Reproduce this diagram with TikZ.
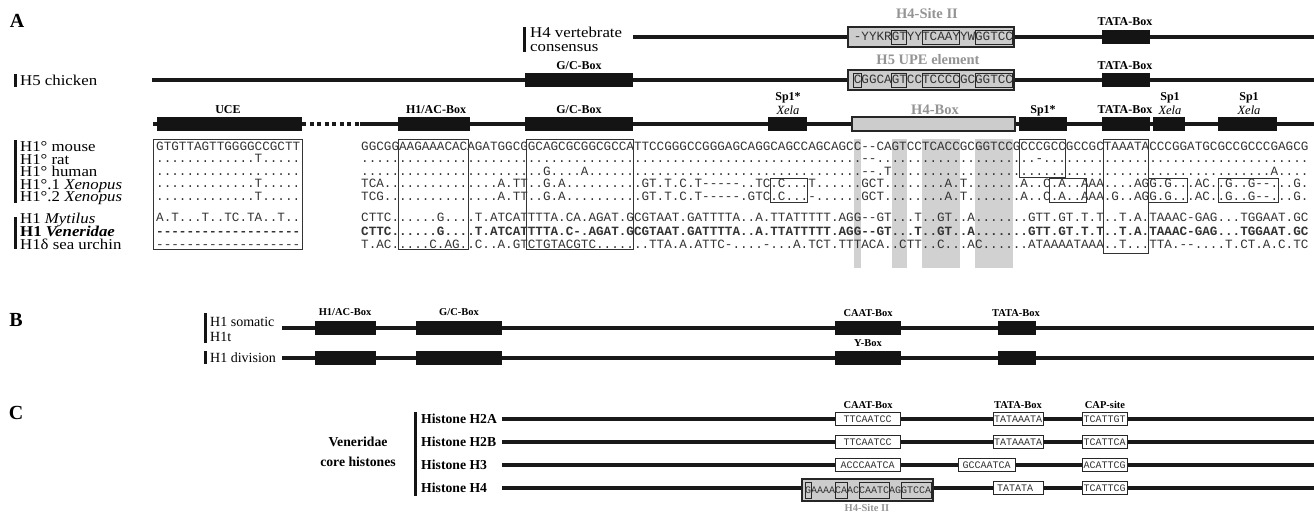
\documentclass[tikz,border=0pt]{standalone}
\usepackage{fontspec}
\setmainfont{Liberation Serif}
\setmonofont{Liberation Mono}
\newfontfamily\labfam[FakeStretch=1.12]{Liberation Serif}
\ExplSyntaxOn
\cs_new:Npn \Rep #1#2 { \prg_replicate:nn {#1} {#2} }
\ExplSyntaxOff
\newcommand\fSeq{\ttfamily\fontsize{12.63}{13}\selectfont}
\newcommand\fSmall{\ttfamily\fontsize{10}{11}\selectfont}
\newcommand\fSp{\labfam\fontsize{15}{16}\selectfont}
\newcommand\fSpM{\fontsize{14}{15}\selectfont}
\newcommand\fSpB{\bfseries\fontsize{13.7}{15}\selectfont}
\newcommand\fFeat{\bfseries\fontsize{12}{13}\selectfont}
\newcommand\fXela{\itshape\fontsize{12.5}{13}\selectfont}
\newcommand\fFeatB{\bfseries\fontsize{10.5}{11}\selectfont}
\newcommand\fGray{\bfseries\fontsize{14.5}{15}\selectfont}
\newcommand\fGraySm{\bfseries\fontsize{10.5}{11}\selectfont}
\newcommand\fPanel{\bfseries\fontsize{20}{21}\selectfont}
\tikzset{
 dna/.style={line width=3.5pt, draw=black!90},
 bb/.style={fill=black!92},
 bar/.style={fill=black!92},
 gbox/.style={fill=black!20, draw=black!85, line width=2pt},
 hbox/.style={fill=black!20, draw=black!85, line width=1.2pt},
 subb/.style={draw=black!85, line width=0.8pt},
 abox/.style={draw=black!80, line width=1pt},
 wbox/.style={fill=white, draw=black!85, line width=0.8pt},
 shadecol/.style={fill=black!18},
 seq/.style={font=\fSeq, anchor=west, inner sep=0pt, text height=7pt, text depth=0pt, text=black!80},
 cseq/.style={font=\fSmall, inner sep=0pt, text height=6pt, text depth=0pt, text=black!80},
 flab/.style={font=\fFeat, inner sep=0pt, text height=8pt, text depth=0pt},
 xlab/.style={font=\fXela, inner sep=0pt, text height=8pt, text depth=0pt},
 blab/.style={font=\fFeatB, inner sep=0pt, text height=7pt, text depth=0pt},
 glab/.style={font=\fGray, text=black!42, inner sep=0pt, text height=9.5pt, text depth=0pt},
 glabs/.style={font=\fGraySm, text=black!42, inner sep=0pt, text height=7pt, text depth=0pt},
 sp/.style={font=\fSp, anchor=west, inner sep=0pt, text height=10pt, text depth=0pt},
 spm/.style={font=\fSpM, anchor=west, inner sep=0pt, text height=9pt, text depth=0pt},
 spb/.style={font=\fSpB, inner sep=0pt, text height=9pt, text depth=0pt},
 panel/.style={font=\fPanel, inner sep=0pt, text height=13pt, text depth=0pt},
}
\begin{document}
\begin{tikzpicture}[x=1pt,y=-1pt]
\useasboundingbox (0,0) rectangle (1314,513);
\fill[white] (0,0) rectangle (1314,513);

% ================= Panel A =================
\node[panel] (pA) at (17,21) {A};

% --- H4 vertebrate consensus
\fill[bar] (523,27) rectangle (526,52);
\node[sp] (lH4a) at (530,33) {H4 vertebrate};
\node[sp] (lH4b) at (530,46.5) {consensus};
\coordinate (r1s) at (633,37); \coordinate (r1e) at (1314,37);
\draw[dna] (r1s) -- (r1e);
\draw[gbox] (848,27) rectangle (1014,47);
\draw[subb] (891.6,30) rectangle (906.8,44) (921.9,30) rectangle (959.8,44) (975,30) rectangle (1012,44);
\node[seq] (cons) at (853.7,37) {-YYKRGTYYTCAAYYWGGTCC};
\fill[bb] (1102,30) rectangle (1150,44);
\node[glab] (lSite) at (927,14) {H4-Site II};
\node[flab] (lTata1) at (1125,22) {TATA-Box};

% --- H5 chicken
\fill[bar] (14,74) rectangle (17,87);
\node[sp] (lH5) at (20,81) {H5 chicken};
\coordinate (r2s) at (152,80); \coordinate (r2e) at (1314,80);
\draw[dna] (r2s) -- (r2e);
\fill[bb] (525,73) rectangle (633,87);
\node[flab] (lGC1) at (579,66) {G/C-Box};
\draw[gbox] (848,70) rectangle (1014,90);
\draw[subb] (853.7,73) rectangle (861.3,87) (891.6,73) rectangle (906.8,87) (921.9,73) rectangle (959.8,87) (975,73) rectangle (1012,87);
\node[seq] (upe) at (853.7,80) {CGGCAGTCCTCCCCGCGGTCC};
\node[glab] (lUPE) at (928,60) {H5 UPE element};
\fill[bb] (1102,73) rectangle (1150,87);
\node[flab] (lTata2) at (1125,66) {TATA-Box};

% --- H1 promoter map
\coordinate (r3s) at (153,124); \coordinate (r3a) at (302,124);
\coordinate (r3b) at (360,124); \coordinate (r3e) at (1314,124);
\draw[dna] (r3s) -- (r3a);
\draw[dna, dash pattern=on 4pt off 3.5pt] (r3a) -- (r3b);
\draw[dna] (r3b) -- (r3e);
\fill[bb] (157,117) rectangle (302,131);
\node[flab] (lUCE) at (228,110) {UCE};
\fill[bb] (398,117) rectangle (470,131);
\node[flab] (lAC) at (436,110) {H1/AC-Box};
\fill[bb] (525,117) rectangle (633,131);
\node[flab] (lGC2) at (579,110) {G/C-Box};
\fill[bb] (768,117) rectangle (807,131);
\node[flab] (lSp1a) at (788,97) {Sp1*};
\node[xlab] (lXa) at (788,111) {Xela};
\draw[hbox] (852,117) rectangle (1015,131);
\node[glab] (lH4box) at (935,110) {H4-Box};
\fill[bb] (1019,117) rectangle (1067,131);
\node[flab] (lSp1b) at (1043,110) {Sp1*};
\fill[bb] (1102,117) rectangle (1150,131);
\node[flab] (lTata3) at (1125,110) {TATA-Box};
\fill[bb] (1153,117) rectangle (1185,131);
\node[flab] (lSp1c) at (1170,97) {Sp1};
\node[xlab] (lXc) at (1170,111) {Xela};
\fill[bb] (1218,117) rectangle (1277,131);
\node[flab] (lSp1d) at (1249,97) {Sp1};
\node[xlab] (lXd) at (1249,111) {Xela};

% --- shaded conserved columns
\fill[shadecol] (853.7,139) rectangle (861.3,268);
\fill[shadecol] (891.6,139) rectangle (906.8,268);
\fill[shadecol] (921.9,139) rectangle (959.8,268);
\fill[shadecol] (975,139) rectangle (1012.9,268);

% --- species labels
\fill[bar] (14,140) rectangle (17,203);
\fill[bar] (14,217) rectangle (17,249);
\node[sp] (sMouse) at (20,147) {H1° mouse};
\node[sp] (sRat) at (20,159.5) {H1° rat};
\node[sp] (sHuman) at (20,172) {H1° human};
\node[sp] (sX1) at (20,184.5) {H1°.1 \textit{Xenopus}};
\node[sp] (sX2) at (20,197) {H1°.2 \textit{Xenopus}};
\node[sp] (sMyt) at (20,218.5) {H1 \textit{Mytilus}};
\node[sp] (sVen) at (20,231.5) {\textbf{H1 \textit{Veneridae}}};
\node[sp] (sUrc) at (20,244.5) {H1δ sea urchin};

% --- UCE alignment
\node[seq] (u1) at (156,147) {GTGTTAGTTGGGGCCGCTT};
\node[seq] (u2) at (156,159.5) {\Rep{13}{.}T\Rep{5}{.}};
\node[seq] (u3) at (156,172) {\Rep{19}{.}};
\node[seq] (u4) at (156,184.5) {\Rep{13}{.}T\Rep{5}{.}};
\node[seq] (u5) at (156,197) {\Rep{13}{.}T\Rep{5}{.}};
\node[seq] (u6) at (156,218.5) {A.T...T..TC.TA..T..};
\node[seq,font=\fSeq\bfseries] (u7) at (156,231.5) {\Rep{19}{-}};
\node[seq] (u8) at (156,244.5) {\Rep{19}{-}};

% --- main alignment
\node[seq] (a1) at (361,147) {GGCGGAAGAAACACAGATGGCGGCAGCGCGGCGCCATTCCGGGCCGGGAGCAGGCAGCCAGCAGCC--CAGTCCTCACCGCGGTCCGCCCGCCGCCGCTAAATACCCGGATGCGCCGCCCGAGCG};
\node[seq] (a2) at (361,159.5) {\Rep{66}{.}--\Rep{21}{.}-\Rep{35}{.}};
\node[seq] (a3) at (361,172) {\Rep{24}{.}G\Rep{4}{.}A\Rep{36}{.}--.T\Rep{50}{.}A\Rep{4}{.}};
\node[seq] (a4) at (361,184.5) {TCA\Rep{15}{.}A.TT..G.A\Rep{10}{.}GT.T.C.T-----..TC.C...T\Rep{6}{.}GCT\Rep{8}{.}A.T\Rep{7}{.}A..C.A..AAA....AGG.G...AC..G..G--...G.};
\node[seq] (a5) at (361,197) {TCG\Rep{15}{.}A.TT..G.A\Rep{10}{.}GT.T.C.T-----.GTC.C...-\Rep{6}{.}GCT\Rep{8}{.}A.T\Rep{7}{.}A..C.A..AAA.G..AGG.G...AC..G..G--...G.};
\node[seq] (a6) at (361,218.5) {CTTC......G....T.ATCATTTTA.CA.AGAT.GCGTAAT.GATTTTA..A.TTATTTTT.AGG--GT...T..GT..A\Rep{7}{.}GTT.GT.T.T..T.A.TAAAC-GAG...TGGAAT.GC};
\node[seq,font=\fSeq\bfseries] (a7) at (361,231.5) {CTTC......G....T.ATCATTTTA.C-.AGAT.GCGTAAT.GATTTTA..A.TTATTTTT.AGG--GT...T..GT..A\Rep{7}{.}GTT.GT.T.T..T.A.TAAAC-GAG...TGGAAT.GC};
\node[seq] (a8) at (361,244.5) {T.AC.....C.AG..C..A.GTCTGTACGTC.......TTA.A.ATTC-....-...A.TCT.TTTACA..CTT..C...AC\Rep{6}{.}ATAAAATAAA..T...TTA.--....T.CT.A.C.TC};

% --- alignment boxes
\draw[abox] (153,140) rectangle (302,249);
\draw[abox] (398,140) rectangle (468,249);
\draw[abox] (526,140) rectangle (633,249);
\draw[abox] (770,179) rectangle (807,203);
\draw[abox] (1019,140) rectangle (1065,178);
\draw[abox] (1049,179) rectangle (1086,203);
\draw[abox] (1103,140) rectangle (1148,253);
\draw[abox] (1148,179) rectangle (1187,203);
\draw[abox] (1218,179) rectangle (1278,203);

% ================= Panel B =================
\node[panel] (pB) at (16,320) {B};
\fill[bar] (204,313) rectangle (207,343);
\node[spm] (bSom) at (210,322) {H1 somatic};
\node[spm] (bT) at (210,337) {H1t};
\fill[bar] (204,351) rectangle (207,364);
\node[spm] (bDiv) at (210,358) {H1 division};
\coordinate (b1s) at (282,328); \coordinate (b1e) at (1314,328);
\coordinate (b2s) at (282,358); \coordinate (b2e) at (1314,358);
\draw[dna] (b1s) -- (b1e);
\draw[dna] (b2s) -- (b2e);
\fill[bb] (315,321) rectangle (376,335);
\fill[bb] (416,321) rectangle (502,335);
\fill[bb] (835,321) rectangle (901,335);
\fill[bb] (998,321) rectangle (1036,335);
\fill[bb] (315,351) rectangle (376,365);
\fill[bb] (416,351) rectangle (502,365);
\fill[bb] (835,351) rectangle (901,365);
\fill[bb] (998,351) rectangle (1036,365);
\node[blab] (bAC) at (345,312) {H1/AC-Box};
\node[blab] (bGC) at (459,312) {G/C-Box};
\node[blab] (bCAAT) at (868,313) {CAAT-Box};
\node[blab] (bTATA) at (1016,313) {TATA-Box};
\node[blab] (bY) at (868,343) {Y-Box};

% ================= Panel C =================
\node[panel] (pC) at (16,413) {C};
\node[spb] (cVen1) at (358,442) {Veneridae};
\node[spb] (cVen2) at (358,462) {core histones};
\fill[bar] (414,412) rectangle (417,496);
\node[spb,anchor=west] (cH2A) at (421,419) {Histone H2A};
\node[spb,anchor=west] (cH2B) at (421,442) {Histone H2B};
\node[spb,anchor=west] (cH3) at (421,465) {Histone H3};
\node[spb,anchor=west] (cH4) at (421,488) {Histone H4};
\coordinate (c1s) at (502,419); \coordinate (c1e) at (1314,419);
\coordinate (c2s) at (502,442); \coordinate (c2e) at (1314,442);
\coordinate (c3s) at (502,465); \coordinate (c3e) at (1314,465);
\coordinate (c4s) at (502,488); \coordinate (c4e) at (1314,488);
\draw[dna] (c1s) -- (c1e);
\draw[dna] (c2s) -- (c2e);
\draw[dna] (c3s) -- (c3e);
\draw[dna] (c4s) -- (c4e);
\node[blab] (cCAAT) at (868,405) {CAAT-Box};
\node[blab] (cTATA) at (1018,405) {TATA-Box};
\node[blab] (cCAP) at (1105,405) {CAP-site};
% H2A
\draw[wbox] (835,412.5) rectangle (900,425.5); \node[cseq] (t1a) at (867.5,419) {TTCAATCC};
\draw[wbox] (993,412.5) rectangle (1043,425.5); \node[cseq] (t1b) at (1018,419) {TATAAATA};
\draw[wbox] (1082,412.5) rectangle (1127,425.5); \node[cseq] (t1c) at (1104.5,419) {TCATTGT};
% H2B
\draw[wbox] (835,435.5) rectangle (900,448.5); \node[cseq] (t2a) at (867.5,442) {TTCAATCC};
\draw[wbox] (993,435.5) rectangle (1043,448.5); \node[cseq] (t2b) at (1018,442) {TATAAATA};
\draw[wbox] (1082,435.5) rectangle (1127,448.5); \node[cseq] (t2c) at (1104.5,442) {TCATTCA};
% H3
\draw[wbox] (835,458.5) rectangle (900,471.5); \node[cseq] (t3a) at (867.5,465) {ACCCAATCA};
\draw[wbox] (958,458.5) rectangle (1015,471.5); \node[cseq] (t3b) at (986.5,465) {GCCAATCA};
\draw[wbox] (1082,458.5) rectangle (1127,471.5); \node[cseq] (t3c) at (1104.5,465) {ACATTCG};
% H4
\draw[gbox, line width=2.5pt] (802,479) rectangle (933,501);
\draw[subb] (805,482) rectangle (811,498) (835,482) rectangle (847,498) (859,482) rectangle (889,498) (901,482) rectangle (931,498);
\node[cseq,anchor=west] (t4a) at (805,490) {GAAAACAACCAATCAGGTCCA};
\node[glabs] (cSite) at (867,508) {H4-Site II};
\draw[wbox] (993,481.5) rectangle (1043,494.5); \node[cseq,anchor=west] (t4b) at (997,488) {TATATA};
\draw[wbox] (1082,481.5) rectangle (1127,494.5); \node[cseq] (t4c) at (1104.5,488) {TCATTCG};
\end{tikzpicture}
\end{document}
